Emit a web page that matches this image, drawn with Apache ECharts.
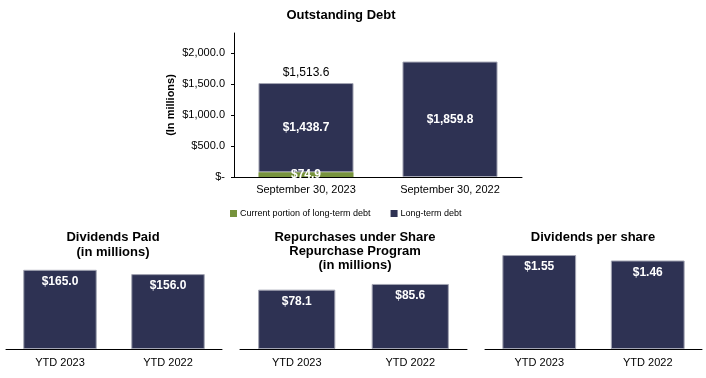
<!DOCTYPE html>
<html>
<head>
<meta charset="utf-8">
<script src="https://cdn.jsdelivr.net/npm/echarts@6/dist/echarts.min.js"></script>
<style>html,body{margin:0;padding:0;background:#fff;}#main{width:706px;height:378px;}</style>
</head>
<body>
<div id="main"></div>
<script>
// ---- data ----
const debtCategories = ['September 30, 2023', 'September 30, 2022'];
const currentPortion = [74.9, null];
const longTermDebt = [1438.7, 1859.8];
const debtTotals = [1513.6, null];
const debtTicks = [0, 500, 1000, 1500, 2000];

const ytdCategories = ['YTD 2023', 'YTD 2022'];
const dividendsPaid = [165.0, 156.0];
const repurchases = [78.1, 85.6];
const dividendsPerShare = [1.55, 1.46];

const titles = {
  debt: 'Outstanding Debt',
  paid: 'Dividends Paid\n(in millions)',
  rep: 'Repurchases under Share\nRepurchase Program\n(in millions)',
  dps: 'Dividends per share'
};

// ---- helpers ----
const FONT = '"Liberation Sans", Arial, sans-serif';
const NAVY = '#2E3253';
const GREEN = '#77933C';
const BORDER = '#A3A5B3';
function money(v, d) {
  return '$' + Number(v).toLocaleString('en-US', {minimumFractionDigits: d, maximumFractionDigits: d});
}

const chart = echarts.init(document.getElementById('main'), null, {renderer: 'canvas'});

function xAxis(gi, margin) {
  return {
    type: 'category', gridIndex: gi, data: gi === 0 ? debtCategories : ytdCategories,
    axisLine: {lineStyle: {color: '#000', width: 1}},
    axisTick: {show: false},
    axisLabel: {color: '#000', fontSize: 11, fontFamily: FONT, margin: margin}
  };
}
function hiddenY(gi, max) {
  return {type: 'value', gridIndex: gi, min: 0, max: max, show: false, splitLine: {show: false}};
}
function smallBar(gi, data, name, d) {
  return {
    type: 'bar', name: name, xAxisIndex: gi, yAxisIndex: gi, data: data, barWidth: '68%',
    itemStyle: {color: NAVY, borderColor: BORDER, borderWidth: 1},
    label: {show: true, position: 'insideTop', distance: 6, color: '#fff', fontWeight: 'bold',
      fontSize: 12, fontFamily: FONT, formatter: p => money(p.value, d)},
    emphasis: {disabled: true}, animation: false
  };
}
function titleText(text, x, y, lh) {
  return {type: 'text', x: x, y: y, style: {text: text, textAlign: 'center', textVerticalAlign: 'top',
    font: 'bold 13px ' + FONT, fill: '#000', lineHeight: lh}};
}

const option = {
  animation: false,
  textStyle: {fontFamily: FONT},
  grid: [
    {left: 234, right: 184, top: 33, bottom: 201},
    {left: 6, right: 484, top: 253, bottom: 29},
    {left: 240, right: 239, top: 273, bottom: 29},
    {left: 485, right: 4, top: 252, bottom: 29}
  ],
  legend: {
    data: ['Current portion of long-term debt', 'Long-term debt'],
    left: 225, top: 204, itemWidth: 7, itemHeight: 7, itemGap: 20, icon: 'rect',
    itemStyle: {borderWidth: 0},
    textStyle: {fontSize: 9, color: '#000', fontFamily: FONT, padding: [0, 0, 0, -2]},
    selectedMode: false
  },
  xAxis: [xAxis(0, 7), xAxis(1, 8), xAxis(2, 8), xAxis(3, 8)],
  yAxis: [
    {
      type: 'value', gridIndex: 0, min: 0, max: 2320,
      name: '(In millions)', nameLocation: 'middle', nameGap: 58, nameRotate: 90,
      nameTextStyle: {fontSize: 11, fontWeight: 'bold', color: '#000', fontFamily: FONT},
      axisLine: {show: true, lineStyle: {color: '#000', width: 1}},
      axisTick: {show: true, length: 3, customValues: debtTicks, lineStyle: {color: '#000'}},
      axisLabel: {customValues: debtTicks, color: '#000', fontSize: 11, fontFamily: FONT, margin: 9,
        formatter: v => v === 0 ? '$-' : money(v, 1)},
      splitLine: {show: false}
    },
    hiddenY(1, 200), hiddenY(2, 100), hiddenY(3, 1.6)
  ],
  series: [
    {
      type: 'bar', name: 'Current portion of long-term debt', stack: 'debt', xAxisIndex: 0, yAxisIndex: 0,
      data: currentPortion, barWidth: '66%',
      itemStyle: {color: GREEN},
      label: {show: true, position: 'inside', color: '#fff', fontWeight: 'bold', fontSize: 12, fontFamily: FONT,
        formatter: p => p.value == null ? '' : money(p.value, 1)},
      emphasis: {disabled: true}
    },
    {
      type: 'bar', name: 'Long-term debt', stack: 'debt', xAxisIndex: 0, yAxisIndex: 0,
      data: longTermDebt, barWidth: '66%',
      itemStyle: {color: NAVY, borderColor: BORDER, borderWidth: 1},
      label: {show: true, position: 'inside', color: '#fff', fontWeight: 'bold', fontSize: 12, fontFamily: FONT,
        formatter: p => money(p.value, 1)},
      emphasis: {disabled: true}, z: 1
    },
    {
      type: 'bar', name: 'Total', stack: 'debt', xAxisIndex: 0, yAxisIndex: 0,
      data: debtTotals.map(v => v == null ? null : 0), barWidth: '66%',
      itemStyle: {color: 'transparent'},
      label: {show: true, position: 'top', distance: 4, color: '#000', fontSize: 12, fontFamily: FONT,
        formatter: p => debtTotals[p.dataIndex] == null ? '' : money(debtTotals[p.dataIndex], 1)},
      emphasis: {disabled: true}, silent: true
    },
    smallBar(1, dividendsPaid, 'Dividends Paid', 1),
    smallBar(2, repurchases, 'Repurchases', 1),
    smallBar(3, dividendsPerShare, 'Dividends per share', 2)
  ],
  graphic: [
    titleText(titles.debt, 341, 8, 15),
    titleText(titles.paid, 113, 230, 15),
    titleText(titles.rep, 355, 230, 14),
    titleText(titles.dps, 593, 230, 15)
  ]
};
chart.setOption(option);
</script>
</body>
</html>
